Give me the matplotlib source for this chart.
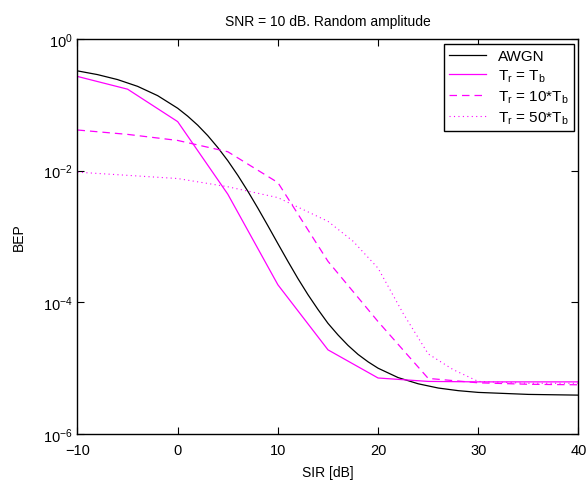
import matplotlib
matplotlib.use('Agg')
import matplotlib.pyplot as plt

# SIR axis values (dB)
sir_awgn = [-10, -8, -6, -4, -2, 0, 1, 2, 3, 4, 5, 6, 7, 8, 9, 10, 11, 12, 13, 14,
            15, 16, 17, 18, 19, 20, 22, 24, 26, 28, 30, 35, 40]
bep_awgn = [0.328, 0.288, 0.242, 0.191, 0.138, 0.0888, 0.0673, 0.0491, 0.0341, 0.0225,
            0.0142, 0.0085, 0.00488, 0.0027, 0.00146, 7.8e-4, 4.2e-4, 2.3e-4, 1.31e-4, 7.8e-5,
            4.8e-5, 3.2e-5, 2.22e-5, 1.62e-5, 1.25e-5, 1.0e-5, 7.2e-6, 5.8e-6, 5.0e-6, 4.56e-6,
            4.29e-6, 4.0e-6, 3.9e-6]

sir_5 = [-10, -5, 0, 5, 10, 15, 20, 25, 30, 35, 40]
bep_tb = [0.27, 0.173, 0.0556, 0.0044, 1.85e-4, 1.9e-5, 7.1e-6, 6.3e-6, 6.2e-6, 6.2e-6, 6.2e-6]
bep_10tb = [0.0415, 0.0356, 0.0288, 0.0194, 0.0066, 4.2e-4, 5.1e-5, 7.0e-6, 6.0e-6, 5.7e-6, 5.6e-6]

sir_50 = [-10, -5, 0, 5, 10, 15, 17.5, 20, 22.5, 25, 27.5, 30, 35, 40]
bep_50tb = [0.0095, 0.0085, 0.0076, 0.0057, 0.0039, 0.0017, 8.5e-4, 3.3e-4, 6.8e-5, 1.65e-5,
            9.5e-6, 6.3e-6, 5.9e-6, 5.9e-6]

plt.rcParams['font.family'] = ['Liberation Sans', 'DejaVu Sans']
plt.rcParams['mathtext.fontset'] = 'custom'
plt.rcParams['mathtext.rm'] = 'Liberation Sans'
plt.rcParams['mathtext.it'] = 'Liberation Sans'
plt.rcParams['font.size'] = 10

fig = plt.figure(figsize=(5.87, 4.85), dpi=100)
ax = fig.add_axes([0.132, 0.103, 0.8535, 0.8145])

ax.semilogy(sir_awgn, bep_awgn, color='black', lw=0.9, label='AWGN')
ax.semilogy(sir_5, bep_tb, color='#ff00ff', lw=0.9, label=r'$\mathrm{T_r}$ = $\mathrm{T_b}$')
ax.semilogy(sir_5, bep_10tb, color='#ff00ff', lw=0.9, ls=(0, (6, 4)),
            label=r'$\mathrm{T_r}$ = 10*$\mathrm{T_b}$')
ax.semilogy(sir_50, bep_50tb, color='#ff00ff', lw=0.8, ls=(0, (1, 3)),
            label=r'$\mathrm{T_r}$ = 50*$\mathrm{T_b}$')

ax.set_xlim(-10, 40)
ax.set_ylim(1e-6, 1)
ax.set_xticks([-10, 0, 10, 20, 30, 40])
ax.set_xticklabels(['\u221210', '0', '10', '20', '30', '40'])
ax.set_yticks([1e-6, 1e-4, 1e-2, 1])
ax.set_yticklabels([r'$10^{-6}$', r'$10^{-4}$', r'$10^{-2}$', r'$10^{0}$'])
ax.minorticks_off()
ax.tick_params(direction='in', top=True, right=True, length=5, width=0.8, labelsize=10.5)
ax.tick_params(axis='x', pad=6.5)
for s in ax.spines.values():
    s.set_linewidth(1.0)

ax.set_xlabel('SIR [dB]', fontsize=10, labelpad=6)
ax.set_ylabel('BEP', fontsize=10, labelpad=12)
ax.set_title('SNR = 10 dB. Random amplitude', fontsize=10, pad=10)

leg = ax.legend(loc='upper right', fancybox=False, edgecolor='black', framealpha=1,
                fontsize=11, handlelength=2.4, borderpad=0.35, labelspacing=0.3,
                handletextpad=0.8, borderaxespad=0.3)
leg.get_frame().set_linewidth(1.0)

fig.savefig('out.png', dpi=100)
